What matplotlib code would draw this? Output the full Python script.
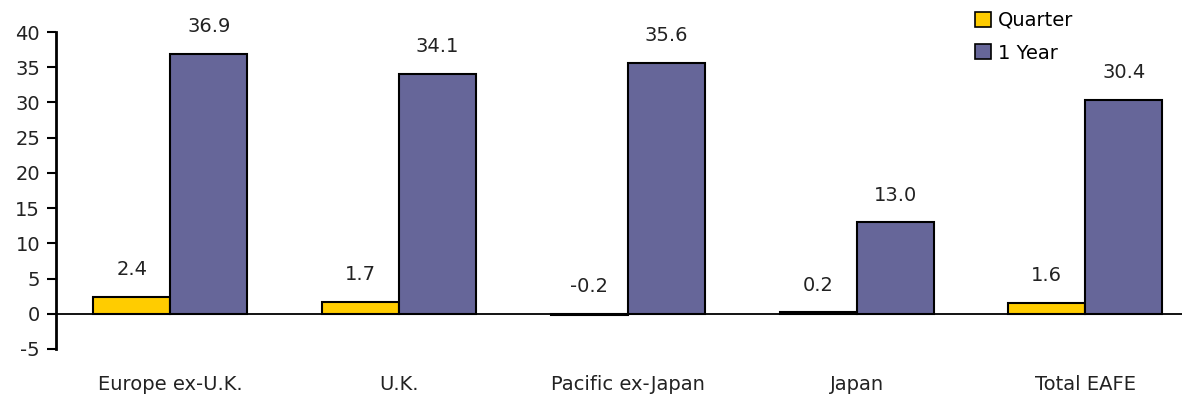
import matplotlib
matplotlib.use("Agg")
import matplotlib.pyplot as plt
import numpy as np
from matplotlib.patches import Patch

categories = ["Europe ex-U.K.", "U.K.", "Pacific ex-Japan", "Japan", "Total EAFE"]
quarter = [2.4, 1.7, -0.2, 0.2, 1.6]
one_year = [36.9, 34.1, 35.6, 13.0, 30.4]
series_names = ["Quarter", "1 Year"]
y_ticks = [-5, 0, 5, 10, 15, 20, 25, 30, 35, 40]

plt.rcParams["font.family"] = ["DejaVu Sans"]
plt.rcParams["axes.unicode_minus"] = False
FS = 14

W, H = 1182, 401
fig = plt.figure(figsize=(W / 100, H / 100), dpi=100)
ax = fig.add_axes([56 / W, (H - 349) / H, (W - 56) / W, (349 - 32) / H])

x = np.arange(len(categories))
bw = 0.337
colors = ["#FFCC00", "#666699"]
for i, (vals, col) in enumerate(zip([quarter, one_year], colors)):
    xs = x + (i - 0.5) * bw
    ax.bar(xs, vals, width=bw, color=col, edgecolor="black", linewidth=1.5, zorder=3)
    for xi, v in zip(xs, vals):
        ax.annotate(f"{v:.1f}", (xi, max(v, 0)), xytext=(0, 19.5), textcoords="offset points",
                    ha="center", va="center", fontsize=FS, color="#222222")

ax.axhline(0, color="black", linewidth=1.3, zorder=4)
ax.set_ylim(-5, 40)
ax.set_xlim(-0.5, (W - 56) / 228.75 - 0.5)
ax.set_yticks(y_ticks)
ax.set_xticks(x)
ax.set_xticklabels(categories, fontsize=FS, color="#222222")
ax.tick_params(axis="x", length=0, pad=19)
ax.tick_params(axis="y", length=6.5, width=1.5, direction="out", labelsize=FS, labelcolor="#222222", pad=5)
for s in ["top", "right", "bottom"]:
    ax.spines[s].set_visible(False)
ax.spines["left"].set_linewidth(2)

handles = [Patch(facecolor=c, edgecolor="black", linewidth=1.2) for c in colors]
fig.legend(handles, series_names, loc="upper left", bbox_to_anchor=(975 / W, 1 - 11 / H),
           frameon=False, fontsize=FS, handlelength=0.8, handleheight=0.8,
           handletextpad=0.4, labelspacing=0.7, borderpad=0, borderaxespad=0)

fig.savefig("out.png", dpi=100)
